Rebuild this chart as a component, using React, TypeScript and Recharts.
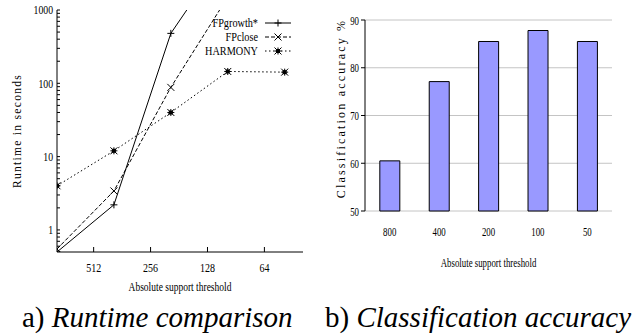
import React from "react";
import {
  LineChart,
  Line,
  XAxis,
  YAxis,
  BarChart,
  Bar,
  CartesianGrid,
  Label,
} from "recharts";

// a) runtime (seconds) per absolute support threshold
const thresholds = [800, 400, 200, 100, 50];
const fpGrowth = [0.5, 2.2, 480, 6600, null];
const fpClose = [0.55, 3.4, 88, 1500, null];
const harmony = [4, 12, 40, 145, 142];

const runtimeXTicks = [512, 256, 128, 64];
const runtimeYMajor = [1, 10, 100, 1000];
const runtimeYTicks = [
  0.6, 0.7, 0.8, 0.9, 1, 2, 3, 4, 5, 6, 7, 8, 9, 10, 20, 30, 40, 50, 60, 70,
  80, 90, 100, 200, 300, 400, 500, 600, 700, 800, 900, 1000,
];

// b) classification accuracy
const accuracyLabels = ["800", "400", "200", "100", "50"];
const accuracy = [60.5, 77.1, 85.5, 87.8, 85.5];
const accuracyTicks = [50, 60, 70, 80, 90];

const runtimeData = thresholds.map((t, i) => ({
  support: t,
  fpgrowth: fpGrowth[i],
  fpclose: fpClose[i],
  harmony: harmony[i],
}));

const accuracyData = accuracyLabels.map((l, i) => ({
  support: l,
  acc: accuracy[i],
  pos: i + 0.5,
}));

const SERIF = "Liberation Serif";

const noLabel = (props: any) => <g key={`n-${props.index}`} />;

// narrow-looking tick text, like the postscript fonts of the original
function condensedTick(size: number, sx: number, fmt?: (v: any) => string) {
  return (props: any) => {
    const { x, y, payload, textAnchor, verticalAnchor, index } = props;
    const label = fmt ? fmt(payload.value) : String(payload.value);
    const dy =
      verticalAnchor === "start" ? "0.71em" : verticalAnchor === "end" ? "0" : "0.355em";
    return (
      <text
        key={`t-${index}`}
        transform={`translate(${x},${y}) scale(${sx},1)`}
        textAnchor={textAnchor}
        dy={dy}
        fontSize={size}
        fontFamily={SERIF}
        fill="#000"
      >
        {label}
      </text>
    );
  };
}

function bottomLabel(text: string, size: number, sx: number, down: number) {
  return (props: any) => {
    const vb = props.viewBox;
    const x = vb.x + vb.width / 2;
    const y = vb.y + down;
    return (
      <text
        transform={`translate(${x},${y}) scale(${sx},1)`}
        textAnchor="middle"
        fontSize={size}
        fontFamily={SERIF}
        fill="#000"
      >
        {text}
      </text>
    );
  };
}

function Marker({ kind, cx, cy }: { kind: string; cx: number; cy: number }) {
  const s = 3.5;
  const plus = (
    <>
      <line x1={cx - s} y1={cy} x2={cx + s} y2={cy} stroke="#000" strokeWidth={1} />
      <line x1={cx} y1={cy - s} x2={cx} y2={cy + s} stroke="#000" strokeWidth={1} />
    </>
  );
  const cross = (
    <>
      <line x1={cx - s} y1={cy - s} x2={cx + s} y2={cy + s} stroke="#000" strokeWidth={1} />
      <line x1={cx - s} y1={cy + s} x2={cx + s} y2={cy - s} stroke="#000" strokeWidth={1} />
    </>
  );
  if (kind === "plus") return <g>{plus}</g>;
  if (kind === "cross") return <g>{cross}</g>;
  return (
    <g>
      {plus}
      {cross}
      <rect x={cx - 2} y={cy - 2} width={4} height={4} fill="#000" />
    </g>
  );
}

const series = [
  { key: "fpgrowth", name: "FPgrowth*", dash: undefined, marker: "plus" },
  { key: "fpclose", name: "FPclose", dash: "4 2", marker: "cross" },
  { key: "harmony", name: "HARMONY", dash: "1.5 2.5", marker: "star" },
];

function makeDot(kind: string) {
  return (props: any) => {
    const { cx, cy, index, value } = props;
    if (cx == null || cy == null || value == null)
      return <g key={`d-${kind}-${index}`} />;
    return (
      <g key={`d-${kind}-${index}`}>
        <Marker kind={kind} cx={cx} cy={cy} />
      </g>
    );
  };
}

function RuntimeLegend() {
  return (
    <svg width={120} height={60} style={{ position: "absolute", left: 180, top: 10 }}>
      {series.map((s, i) => {
        const y = 13 + i * 14;
        return (
          <g key={s.key}>
            <text
              transform={`translate(78,${y + 4}) scale(0.82,1)`}
              fontSize={12.5}
              textAnchor="end"
              fill="#000"
              fontFamily={SERIF}
            >
              {s.name}
            </text>
            <line x1={85} y1={y} x2={111} y2={y} stroke="#000" strokeDasharray={s.dash} />
            <Marker kind={s.marker} cx={98} cy={y} />
          </g>
        );
      })}
    </svg>
  );
}

function RuntimeChart() {
  return (
    <div style={{ position: "absolute", left: 0, top: 0, width: 320, height: 300 }}>
      <LineChart
        width={320}
        height={300}
        data={runtimeData}
        margin={{ top: 10, right: 17, bottom: 0, left: 17 }}
      >
        <XAxis
          dataKey="support"
          type="number"
          scale="log"
          domain={[40, 800]}
          reversed
          ticks={runtimeXTicks}
          allowDataOverflow
          height={48}
          tickSize={-5}
          tickMargin={16}
          stroke="#000"
          tick={condensedTick(12.5, 0.8)}
        >
          <Label content={bottomLabel("Absolute support threshold", 12.5, 0.76, 39)} />
        </XAxis>
        <XAxis
          xAxisId="top"
          dataKey="support"
          type="number"
          scale="log"
          domain={[40, 800]}
          reversed
          ticks={runtimeXTicks}
          allowDataOverflow
          orientation="top"
          mirror
          height={0}
          tickSize={5}
          tick={noLabel}
          stroke="#000"
        />
        <YAxis
          type="number"
          scale="log"
          domain={[0.5, 1000]}
          allowDataOverflow
          ticks={runtimeYTicks}
          interval={0}
          width={40}
          tickSize={-3}
          tickMargin={7}
          stroke="#000"
          tick={condensedTick(12.5, 0.78, (v: number) =>
            runtimeYMajor.includes(v) ? String(v) : ""
          )}
        >
          <Label
            value="Runtime in seconds"
            angle={-90}
            position="insideLeft"
            offset={0}
            style={{
              textAnchor: "middle",
              fontSize: 11.5,
              fill: "#000",
              letterSpacing: 1.3,
              fontFamily: SERIF,
            }}
          />
        </YAxis>
        <YAxis
          yAxisId="right"
          orientation="right"
          mirror
          type="number"
          scale="log"
          domain={[0.5, 1000]}
          allowDataOverflow
          ticks={runtimeYTicks}
          interval={0}
          width={0}
          tickSize={3}
          tick={noLabel}
          stroke="#000"
        />
        {series.map((s) => (
          <Line
            key={s.key}
            dataKey={s.key}
            name={s.name}
            stroke="#000"
            strokeWidth={1}
            strokeDasharray={s.dash}
            dot={makeDot(s.marker)}
            activeDot={false}
            isAnimationActive={false}
          />
        ))}
      </LineChart>
      <RuntimeLegend />
    </div>
  );
}

function AccuracyChart() {
  return (
    <div style={{ position: "absolute", left: 320, top: 0, width: 312, height: 300 }}>
      <BarChart
        width={312}
        height={300}
        data={accuracyData}
        margin={{ top: 20, right: 20, bottom: 0, left: 10 }}
        barCategoryGap="30%"
      >
        <CartesianGrid vertical={false} stroke="#c4c4c4" />
        <XAxis
          xAxisId="edges"
          type="number"
          dataKey="pos"
          domain={[0, 5]}
          ticks={[0, 1, 2, 3, 4, 5]}
          interval={0}
          height={0}
          tickSize={5}
          tick={noLabel}
          stroke="#000"
        />
        <XAxis
          xAxisId="cat"
          dataKey="support"
          height={89}
          axisLine={false}
          tickLine={false}
          tickSize={0}
          tickMargin={16}
          tick={condensedTick(13, 0.68)}
        >
          <Label content={bottomLabel("Absolute support threshold", 13, 0.68, 56)} />
        </XAxis>
        <YAxis
          domain={[50, 90]}
          ticks={accuracyTicks}
          width={35}
          tickSize={4}
          tickMargin={2}
          stroke="#000"
          tick={condensedTick(13, 0.68)}
        >
          <Label
            content={(props: any) => {
              const vb = props.viewBox;
              const x = vb.x + 11;
              const y = vb.y + vb.height / 2 - 7;
              return (
                <text
                  x={x}
                  y={y}
                  transform={`rotate(-90 ${x} ${y})`}
                  textAnchor="middle"
                  dominantBaseline="central"
                  fontSize={12}
                  fill="#000"
                  fontFamily={SERIF}
                  style={{ letterSpacing: 2.2 }}
                >
                  Classification accuracy %
                </text>
              );
            }}
          />
        </YAxis>
        <YAxis
          yAxisId="frame"
          orientation="right"
          width={0}
          tick={false}
          tickLine={false}
          stroke="#a0a0a0"
        />
        <Bar
          dataKey="acc"
          xAxisId="cat"
          fill="#9999ff"
          stroke="#000"
          strokeWidth={1}
          isAnimationActive={false}
        />
      </BarChart>
    </div>
  );
}

const captionStyle: React.CSSProperties = {
  position: "absolute",
  top: 302,
  fontFamily: SERIF,
  fontSize: 29,
  lineHeight: "30px",
  whiteSpace: "nowrap",
};

export default function App() {
  return (
    <div
      style={{
        position: "absolute",
        left: 0,
        top: 0,
        width: 632,
        height: 335,
        background: "#fff",
        overflow: "hidden",
      }}
    >
      <RuntimeChart />
      <AccuracyChart />
      <div style={{ ...captionStyle, left: 22 }}>
        a) <i>Runtime comparison</i>
      </div>
      <div style={{ ...captionStyle, left: 325 }}>
        b) <i>Classification accuracy</i>
      </div>
    </div>
  );
}
